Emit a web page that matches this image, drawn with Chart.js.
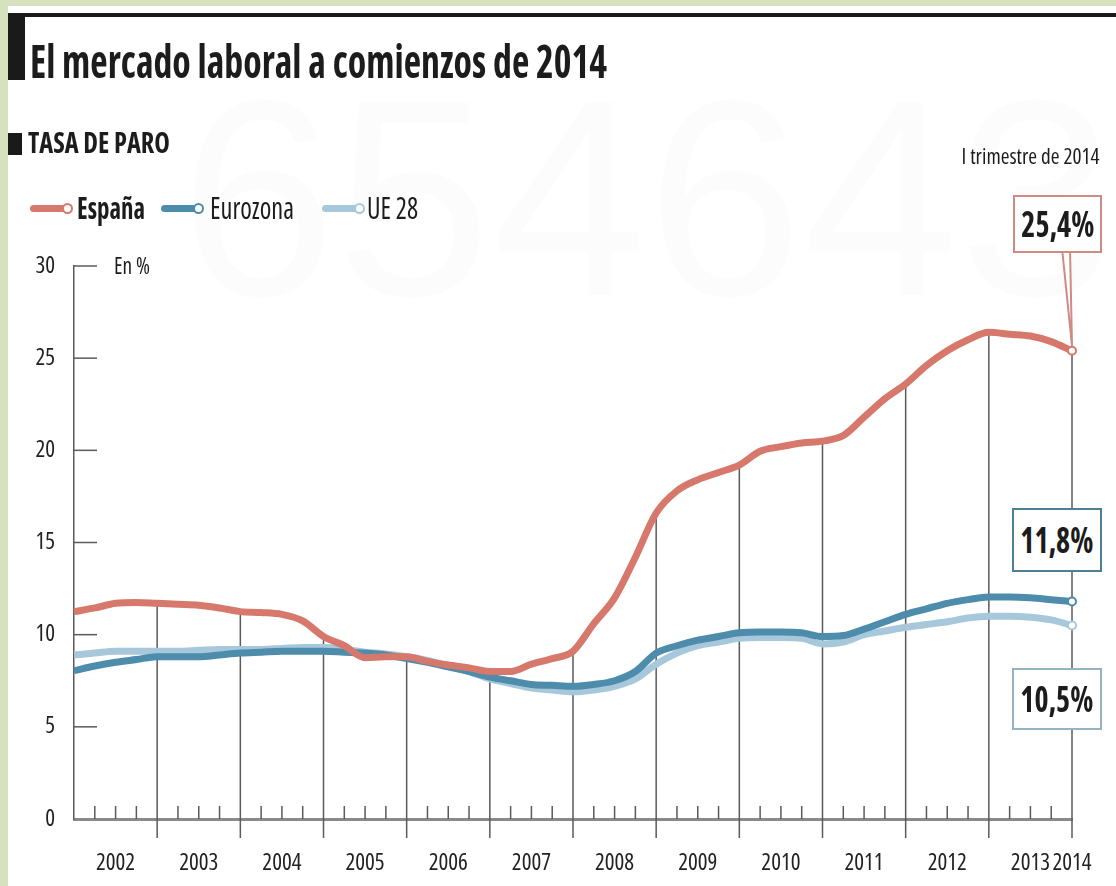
<!DOCTYPE html>
<html>
<head>
<meta charset="utf-8">
<script src="https://cdn.jsdelivr.net/npm/chart.js@4.4.1/dist/chart.umd.min.js"></script>
<style>
    body { margin: 0; width: 1116px; height: 886px; background: #d6e1be; overflow: hidden; position: relative; font-family: "Open Sans", sans-serif; font-stretch: 75%; color: #1c1c1c; }
    .card { position: absolute; left: 8px; top: 6px; right: 0; bottom: 0; background: #fff; }
    .abs { position: absolute; white-space: nowrap; line-height: 1; }
    #chart { position: absolute; left: 0; top: 0; z-index: 2; }
    .over { z-index: 3; }
    .box { position: absolute; z-index: 3; background: #fff; border: 2.5px solid; box-sizing: border-box; display: flex; align-items: center; justify-content: center; font-weight: bold; font-size: 36px; line-height: 1; }
    .swatch { position: absolute; z-index: 3; height: 7px; border-radius: 4px; }
    .swatch::after { content: ''; position: absolute; right: -3px; top: -2px; width: 7px; height: 7px; border-radius: 50%; background: #fff; border: 2px solid; border-color: inherit; }
</style>
</head>
<body>
<div class="card"></div>
<div class="abs" id="watermark" style="left:180px; top:58px; font-family:'Liberation Sans'; font-stretch:100%; font-size:280px; color:rgba(0,0,0,0.012); z-index:1;">654643</div>
<div class="abs over" style="left:8px; top:13px; right:0; height:4px; background:#1a1a1a;"></div>
<div class="abs over" style="left:8px; top:14px; width:17px; height:66px; background:#1a1a1a;"></div>
<div class="abs over fit" data-w="577" id="title" style="left:30px; top:37px; font-size:46px; font-weight:bold;">El mercado laboral a comienzos de 2014</div>
<div class="abs over" style="left:8px; top:133px; width:14px; height:22px; background:#1a1a1a;"></div>
<div class="abs over fit" data-w="142" style="left:28px; top:128px; font-size:28px; font-weight:bold;">TASA DE PARO</div>

<div class="swatch" id="sw0" style="left:30px; top:205px; width:40px;"></div>
<div class="abs over fit" data-w="68" id="lg0" style="left:77px; top:193px; font-size:30px; font-weight:bold;"></div>
<div class="swatch" id="sw1" style="left:161px; top:205px; width:40px;"></div>
<div class="abs over fit" data-w="84" id="lg1" style="left:210px; top:193px; font-size:30px;"></div>
<div class="swatch" id="sw2" style="left:322px; top:205px; width:40px;"></div>
<div class="abs over fit" data-w="51" id="lg2" style="left:367px; top:193px; font-size:30px;"></div>

<div class="abs over fit" data-w="36" style="left:114px; top:254px; font-size:23px;">En %</div>
<div class="abs over fit" data-w="138" data-origin="right" style="right:16px; top:146px; font-size:21px;">I trimestre de 2014</div>

<div class="box" id="box0" style="left:1013px; top:195px; width:89px; height:58px;"><span class="fitc" data-w="73"></span></div>
<div class="box" id="box1" style="left:1012px; top:508px; width:90px; height:64px;"><span class="fitc" data-w="73"></span></div>
<div class="box" id="box2" style="left:1012px; top:668px; width:90px; height:62px;"><span class="fitc" data-w="73"></span></div>

<canvas id="chart" width="1116" height="886"></canvas>

<script>
const years = [2002, 2003, 2004, 2005, 2006, 2007, 2008, 2009, 2010, 2011, 2012, 2013, 2014];
const quarterNames = ['T1', 'T2', 'T3', 'T4'];

// tasa de paro trimestral, %
const spain = [11.25, 11.45, 11.7, 11.75, 11.7, 11.65, 11.6, 11.45, 11.25, 11.2, 11.1, 10.75,
    9.9, 9.4, 8.75, 8.8, 8.8, 8.55, 8.35, 8.2, 8.0, 8.0, 8.4, 8.7,
    9.1, 10.6, 12.0, 14.2, 16.6, 17.8, 18.4, 18.8, 19.2, 19.95, 20.2, 20.4,
    20.5, 20.8, 21.8, 22.8, 23.6, 24.6, 25.4, 26.0, 26.4, 26.3, 26.2, 25.9, 25.4];
const eurozona = [8.05, 8.3, 8.5, 8.65, 8.8, 8.8, 8.8, 8.9, 9.0, 9.05, 9.1, 9.1,
    9.1, 9.05, 9.0, 8.9, 8.7, 8.5, 8.25, 8.0, 7.7, 7.5, 7.3, 7.25,
    7.2, 7.3, 7.5, 8.0, 9.0, 9.4, 9.7, 9.9, 10.1, 10.15, 10.15, 10.1,
    9.9, 9.95, 10.3, 10.7, 11.1, 11.4, 11.7, 11.9, 12.05, 12.05, 12.0, 11.9, 11.8];
const ue28 = [8.9, 9.0, 9.1, 9.1, 9.1, 9.1, 9.15, 9.2, 9.2, 9.2, 9.25, 9.3,
    9.3, 9.2, 9.05, 8.95, 8.8, 8.6, 8.3, 8.0, 7.6, 7.35, 7.1, 7.0,
    6.9, 7.0, 7.2, 7.6, 8.4, 9.0, 9.4, 9.6, 9.8, 9.85, 9.85, 9.8,
    9.5, 9.6, 10.0, 10.2, 10.4, 10.55, 10.7, 10.9, 11.0, 11.0, 10.95, 10.8, 10.5];

const seriesNames = ['España', 'Eurozona', 'UE 28'];
const seriesColors = ['#d6786b', '#4d8cab', '#a7c8db'];
const boxColors = ['#cf8a85', '#4f7f95', '#94b3c3'];
const yTicks = [0, 5, 10, 15, 20, 25, 30];

// categorias trimestrales 2002T1 .. 2014T1
const quarters = [];
years.forEach(y => quarterNames.forEach(q => {
    if (y < 2014 || q === 'T1') quarters.push(y + q);
}));
const last = quarters.length - 1;

const series = [spain, eurozona, ue28];
const fmt = v => v.toFixed(1).replace('.', ',') + '%';

seriesNames.forEach((name, i) => {
    document.getElementById('lg' + i).textContent = name;
    const sw = document.getElementById('sw' + i);
    sw.style.background = seriesColors[i];
    sw.style.borderColor = seriesColors[i];
    const box = document.getElementById('box' + i);
    box.style.borderColor = boxColors[i];
    box.firstElementChild.textContent = fmt(series[i][last]);
});

function fitText() {
    document.querySelectorAll('.fit, .fitc').forEach(el => {
        el.style.display = 'inline-block';
        el.style.transform = 'none';
        const w = el.getBoundingClientRect().width;
        const origin = el.classList.contains('fitc') ? 'center' : (el.dataset.origin || 'left');
        el.style.transformOrigin = origin + ' center';
        el.style.transform = `scaleX(${el.dataset.w / w})`;
    });
}

const guides = {
    id: 'guides',
    beforeDatasetsDraw(chart) {
        const { ctx, scales: { x, y } } = chart;
        const line = (x1, y1, x2, y2) => { ctx.beginPath(); ctx.moveTo(x1, y1); ctx.lineTo(x2, y2); ctx.stroke(); };
        ctx.save();
        ctx.strokeStyle = '#5a5a5a';
        ctx.lineWidth = 1.5;
        yTicks.forEach(v => {
            if (v === 0) return;
            const py = y.getPixelForValue(v);
            line(x.left, py, x.left + 23, py);
        });
        quarters.forEach((q, i) => {
            const px = x.getPixelForValue(i);
            if (i % 4 === 0) {
                if (i === 0) return;
                line(px, y.getPixelForValue(spain[i]), px, y.bottom + 19);
            } else {
                line(px, y.bottom, px, y.bottom - 13);
            }
        });
        ctx.restore();
    },
    afterDatasetsDraw(chart) {
        // pico del recuadro de España
        const { ctx, scales: { x, y } } = chart;
        const px = x.getPixelForValue(last);
        const py = y.getPixelForValue(spain[last]) - 5;
        ctx.save();
        ctx.fillStyle = '#fff';
        ctx.strokeStyle = boxColors[0];
        ctx.lineWidth = 2;
        ctx.beginPath();
        ctx.moveTo(px - 10, 248);
        ctx.lineTo(px, py);
        ctx.lineTo(px - 2, 248);
        ctx.closePath();
        ctx.fill();
        ctx.stroke();
        ctx.restore();
    }
};

// "condensed" va en el hueco del peso para que el canvas use Open Sans estrecha
const tickFont = { family: '"Open Sans"', weight: 'condensed', size: 23 };

function drawChart() {
    fitText();
    new Chart(document.getElementById('chart'), {
        type: 'line',
        data: {
            labels: quarters,
            datasets: series.map((data, i) => ({
                label: seriesNames[i],
                data: data,
                borderColor: seriesColors[i],
                borderWidth: 7,
                cubicInterpolationMode: 'monotone',
                pointRadius: ctx => ctx.dataIndex === last ? 4 : 0,
                pointBackgroundColor: '#fff',
                pointBorderColor: seriesColors[i],
                pointBorderWidth: 2,
                fill: false,
            })),
        },
        options: {
            responsive: false,
            animation: false,
            devicePixelRatio: 1,
            layout: { padding: { top: 266, right: 44, left: 0, bottom: 0 } },
            plugins: { legend: { display: false }, tooltip: { enabled: false } },
            scales: {
                x: {
                    type: 'category',
                    offset: false,
                    grid: { display: false },
                    border: { display: true, color: '#8a8a8a', width: 3 },
                    ticks: {
                        autoSkip: false,
                        maxRotation: 0,
                        padding: 23,
                        color: '#222',
                        font: tickFont,
                        callback: (val, i) => {
                            const q = quarters[i];
                            return (q.endsWith('T3') || i === last) ? q.slice(0, 4) : '';
                        },
                    },
                    afterFit: scale => { scale.height = 67; },
                },
                y: {
                    min: 0,
                    max: 30,
                    afterBuildTicks: scale => { scale.ticks = yTicks.map(v => ({ value: v })); },
                    grid: { display: false },
                    border: { display: true, color: '#5a5a5a', width: 1.5 },
                    ticks: { padding: 11, color: '#222', font: tickFont },
                    afterFit: scale => { scale.width = 74; },
                },
            },
        },
        plugins: [guides],
    });
}

Promise.all([
    document.fonts.load('condensed 23px "Open Sans"'),
    document.fonts.load('condensed bold 30px "Open Sans"'),
]).then(drawChart, drawChart);
</script>
</body>
</html>
